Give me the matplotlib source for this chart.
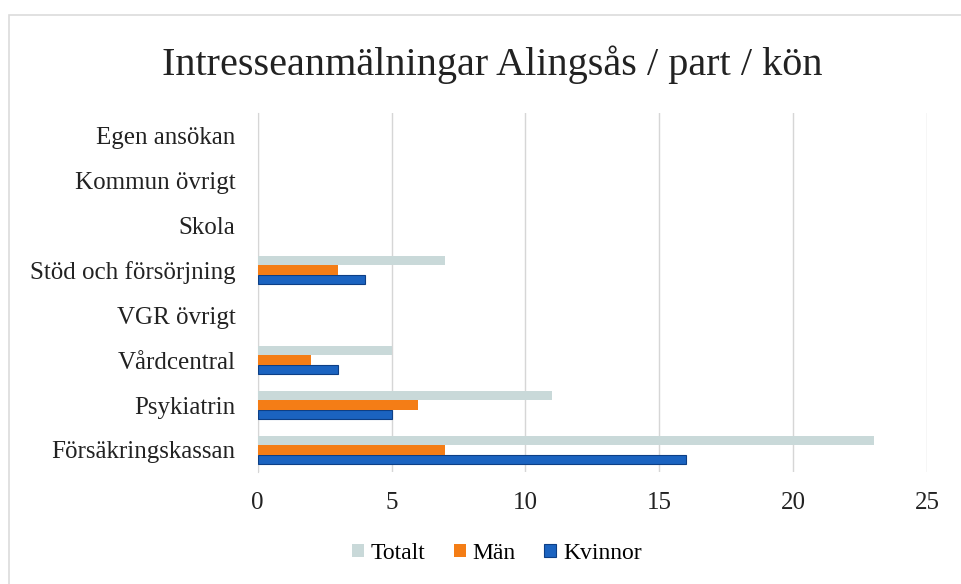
import matplotlib
matplotlib.use("Agg")
import matplotlib.pyplot as plt
import numpy as np

# data (bottom to top as drawn)
categories = ["Försäkringskassan", "Psykiatrin", "Vårdcentral", "VGR övrigt",
              "Stöd och försörjning", "Skola", "Kommun övrigt", "Egen ansökan"]
kvinnor = [16, 5, 3, 0, 4, 0, 0, 0]
man = [7, 6, 2, 0, 3, 0, 0, 0]
totalt = [23, 11, 5, 0, 7, 0, 0, 0]

plt.rcParams["font.family"] = ["Liberation Serif", "DejaVu Serif"]

fig = plt.figure(figsize=(9.61, 5.84), dpi=100)
ax = fig.add_axes([0.268, 0.191, 0.697, 0.616])

y = np.arange(len(categories))
h = 0.21
# outline only on non-empty bars
kv_lw = [0.8 if v else 0 for v in kvinnor]
ax.barh(y - h, kvinnor, height=h, color="#1b63c0", edgecolor="#0d3f86", linewidth=kv_lw, label="Kvinnor", zorder=3)
ax.barh(y, man, height=h, color="#f47d16", linewidth=0, label="Män", zorder=3)
ax.barh(y + h, totalt, height=h, color="#c9d9d9", linewidth=0, label="Totalt", zorder=3)

ax.set_xlim(0, 25)
ax.set_ylim(-0.5, len(categories) - 0.5)
ax.set_xticks([0, 5, 10, 15, 20, 25])
ax.set_yticks(y)
ax.set_yticklabels(categories)
ax.tick_params(axis="both", length=0, labelsize=18, colors="#222222")
ax.tick_params(axis="y", pad=16)
ax.tick_params(axis="x", pad=14)
ax.grid(axis="x", color="#d6d6d6", linewidth=1, zorder=0)
for s in ["top", "right", "bottom"]:
    ax.spines[s].set_visible(False)
ax.spines["left"].set_color("#d6d6d6")

fig.suptitle("Intresseanmälningar Alingsås / part / kön", x=0.512, y=0.922, fontsize=29, color="#222222")

handles, labels = ax.get_legend_handles_labels()
order = [2, 1, 0]
fig.legend([handles[i] for i in order], [labels[i] for i in order],
           loc="center", bbox_to_anchor=(0.517, 0.052), ncol=3, frameon=False,
           fontsize=17, handlelength=0.5, handleheight=0.5, handletextpad=0.3,
           columnspacing=1.2)

# scanned chart border
fig.patches.append(plt.Rectangle((0.009, -0.01), 0.995, 0.985, transform=fig.transFigure,
                                 fill=False, edgecolor="#dcdcdc", linewidth=1.2))

fig.savefig("out.png", dpi=100)
